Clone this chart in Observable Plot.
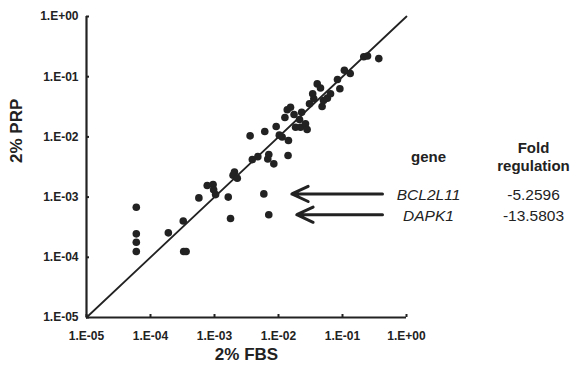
<!DOCTYPE html>
<html>
<head>
<meta charset="utf-8">
<script src="https://cdn.jsdelivr.net/npm/d3@7"></script>
<script src="https://cdn.jsdelivr.net/npm/@observablehq/plot@0.6"></script>
<style>
  html, body { margin: 0; padding: 0; background: #fff; }
  svg { font-family: "Liberation Sans", Arial, sans-serif; }
</style>
</head>
<body>
<div id="chart"></div>
<script>
// 2% FBS (x) and 2% PRP (y) expression values, one entry per gene
const fbs = [
  6.0e-5, 6.0e-5, 6.0e-5, 6.0e-5, 1.9e-4, 3.25e-4, 3.3e-4, 3.6e-4,
  5.7e-4, 7.7e-4, 9.5e-4, 9.7e-4, 1.04e-3, 1.64e-3, 1.78e-3, 2.05e-3,
  1.95e-3, 2.27e-3, 3.9e-3, 4.75e-3, 5.9e-3, 7.05e-3, 7.05e-3, 6.8e-3,
  8.45e-3, 1.41e-2, 3.6e-3, 6.1e-3, 9.2e-3, 1.03e-2, 1.14e-2, 1.43e-2,
  1.26e-2, 1.37e-2, 1.54e-2, 1.75e-2, 2.13e-2, 2.3e-2, 1.85e-2, 2.21e-2,
  2.64e-2, 2.8e-2, 3.05e-2, 3.42e-2, 3.56e-2, 4.03e-2, 4.53e-2, 4.8e-2,
  5.05e-2, 5.8e-2, 6.5e-2, 8.35e-2, 9.1e-2, 0.107, 0.132, 0.215,
  0.246, 0.369
];
const prp = [
  6.8e-4, 2.45e-4, 1.78e-4, 1.25e-4, 2.55e-4, 4.0e-4, 1.25e-4, 1.25e-4,
  9.7e-4, 1.56e-3, 1.62e-3, 1.32e-3, 1.1e-3, 1.0e-3, 4.4e-4, 2.6e-3,
  2.3e-3, 2.06e-3, 4.2e-3, 4.7e-3, 1.13e-3, 5.1e-4, 5.1e-3, 4.3e-3,
  3.57e-3, 4.9e-3, 1.04e-2, 1.23e-2, 1.49e-2, 1.07e-2, 9.95e-3, 8.7e-3,
  2.1e-2, 2.82e-2, 3.1e-2, 2.35e-2, 1.95e-2, 2.57e-2, 1.45e-2, 1.45e-2,
  1.65e-2, 1.33e-2, 3.55e-2, 5.2e-2, 4.3e-2, 7.6e-2, 6.5e-2, 3.2e-2,
  4.03e-2, 4.4e-2, 5.2e-2, 8.97e-2, 6.3e-2, 0.128, 0.113, 0.214,
  0.221, 0.2
];

// highlighted genes
const genes = ["BCL2L11", "DAPK1"];
const geneFbs = [5.9e-3, 7.05e-3];
const genePrp = [1.13e-3, 5.1e-4];
const foldRegulation = ["-5.2596", "-13.5803"];

// axis ticks
const tickValues = [1e-5, 1e-4, 1e-3, 1e-2, 1e-1, 1];
const tickLabels = ["1.E-05", "1.E-04", "1.E-03", "1.E-02", "1.E-01", "1.E+00"];

const xTitle = "2% FBS";
const yTitle = "2% PRP";
const geneHeader = "gene";
const foldHeader = "Fold\nregulation";

const points = fbs.map((x, i) => ({x, y: prp[i]}));
const geneRows = genes.map((g, i) => ({gene: g, x: geneFbs[i], y: genePrp[i], fold: foldRegulation[i]}));
const diag = [{x: tickValues[0], y: tickValues[0]}, {x: tickValues[tickValues.length - 1], y: tickValues[tickValues.length - 1]}];
const fmt = d => tickLabels[tickValues.findIndex(t => Math.abs(Math.log10(t) - Math.log10(d)) < 1e-6)];

const ink = "#222";
const font = "'Liberation Sans', Arial, sans-serif";

const chart = Plot.plot({
  width: 574,
  height: 369,
  marginLeft: 86,
  marginRight: 168,
  marginTop: 16,
  marginBottom: 52,
  style: {fontFamily: font, color: ink, background: "#fff"},
  x: {type: "log", domain: [1e-5, 1], range: [86, 406]},
  y: {type: "log", domain: [1e-5, 1], range: [317, 16]},
  marks: [
    Plot.axisX(tickValues, {tickFormat: fmt, tickSize: -3, tickPadding: 17, fontSize: 12, fontWeight: "bold", stroke: ink, strokeWidth: 2, fill: ink, label: null}),
    Plot.axisY(tickValues, {tickFormat: fmt, tickSize: -3, tickPadding: 11, fontSize: 12, fontWeight: "bold", stroke: ink, strokeWidth: 2, fill: ink, label: null}),
    Plot.ruleX([tickValues[0]], {stroke: ink, strokeWidth: 2.2}),
    Plot.ruleY([tickValues[0]], {stroke: ink, strokeWidth: 2.2}),
    Plot.line(diag, {x: "x", y: "y", stroke: ink, strokeWidth: 1.8}),
    Plot.dot(points, {x: "x", y: "y", r: 3.8, fill: ink, stroke: "none"}),
    Plot.arrow(geneRows, {x1: () => tickValues[tickValues.length - 1], y1: "y", x2: "x", y2: "y", bend: 0, insetStart: 24, insetEnd: 28, headLength: 9, headAngle: 50, stroke: ink, strokeWidth: 3}),
    Plot.text(geneRows, {y: "y", text: "gene", frameAnchor: "right", textAnchor: "middle", dx: 22, dy: 1, fontSize: 15.5, fontStyle: "italic", fill: ink}),
    Plot.text(geneRows, {y: "y", text: "fold", frameAnchor: "right", textAnchor: "middle", dx: 127, dy: 1, fontSize: 15.5, fill: ink}),
    Plot.text([geneHeader], {y: () => genePrp[0], text: d => d, frameAnchor: "right", textAnchor: "middle", dx: 22, dy: -37, fontSize: 15, fontWeight: "bold", fill: ink}),
    Plot.text([foldHeader], {y: () => genePrp[0], text: d => d, frameAnchor: "right", textAnchor: "middle", dx: 127, dy: -38, fontSize: 15, fontWeight: "bold", lineHeight: 1.25, fill: ink}),
    Plot.text([xTitle], {text: d => d, frameAnchor: "bottom", dy: 42, fontSize: 17, fontWeight: "bold", fill: ink}),
    Plot.text([yTitle], {text: d => d, frameAnchor: "left", dx: -70, dy: -4, rotate: -90, fontSize: 17, fontWeight: "bold", fill: ink})
  ]
});
document.getElementById("chart").appendChild(chart);
</script>
</body>
</html>
